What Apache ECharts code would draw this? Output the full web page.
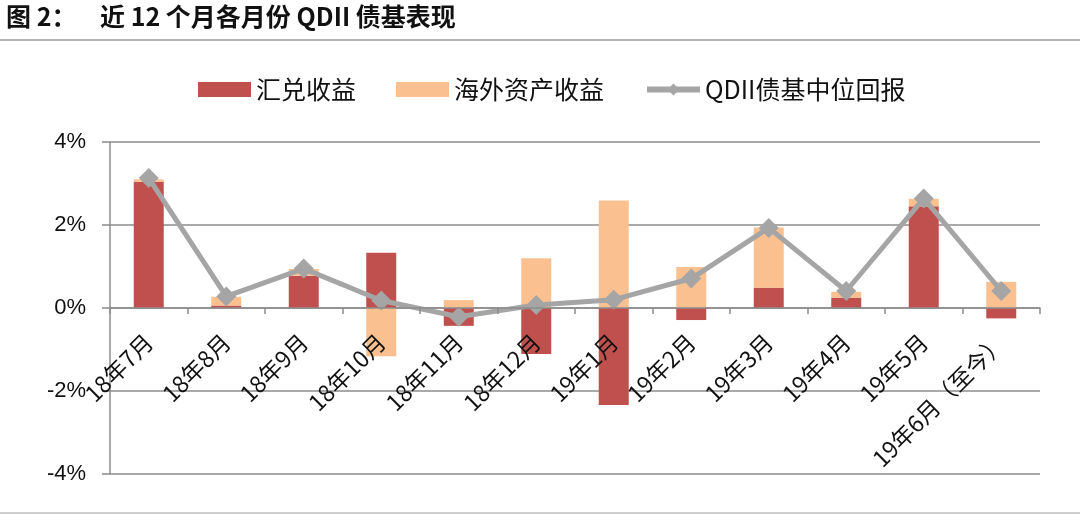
<!DOCTYPE html>
<html>
<head>
<meta charset="utf-8">
<script src="https://cdn.jsdelivr.net/npm/echarts@6/dist/echarts.min.js"></script>
<style>
html,body{margin:0;padding:0;background:#fff;}
#c{width:1080px;height:520px;}
</style>
</head>
<body>
<div id="c"></div>
<script>
const categories = ['18年7月','18年8月','18年9月','18年10月','18年11月','18年12月','19年1月','19年2月','19年3月','19年4月','19年5月','19年6月（至今）'];
const fxReturn = [3.04, 0.06, 0.78, 1.33, -0.43, -1.11, -2.34, -0.29, 0.49, 0.25, 2.45, -0.25];
const overseasReturn = [0.06, 0.21, 0.16, -1.16, 0.19, 1.20, 2.59, 0.99, 1.45, 0.14, 0.18, 0.63];
const qdiiMedian = [3.13, 0.28, 0.95, 0.18, -0.21, 0.07, 0.20, 0.71, 1.93, 0.41, 2.64, 0.41];
const yTicks = [-4, -2, 0, 2, 4];
const titleLabel = '图 2：';
const titleText = '近 12 个月各月份 QDII 债基表现';

const FONT = '"Noto Sans CJK SC", "Noto Sans", sans-serif';
const chart = echarts.init(document.getElementById('c'));
chart.setOption({
  animation: false,
  backgroundColor: '#fff',
  textStyle: { fontFamily: FONT },
  graphic: [
    { type: 'text', left: 6, top: 4, style: { text: titleLabel, font: 'bold 25px ' + FONT, fill: '#111' } },
    { type: 'text', left: 100, top: 4, style: { text: titleText, font: 'bold 25px ' + FONT, fill: '#111' } },
    { type: 'line', shape: { x1: 0, y1: 40, x2: 1080, y2: 40 }, style: { stroke: '#b4b4b4', lineWidth: 2 } },
    { type: 'line', shape: { x1: 0, y1: 513, x2: 1080, y2: 513 }, style: { stroke: '#cfcfcf', lineWidth: 2 } }
  ],
  legend: {
    left: 193, top: 72,
    itemWidth: 53, itemHeight: 15, itemGap: 40,
    textStyle: { fontFamily: FONT, fontSize: 25, color: '#111' },
    data: [
      { name: '汇兑收益', icon: 'rect' },
      { name: '海外资产收益', icon: 'rect' },
      { name: 'QDII债基中位回报', lineStyle: { width: 6 } }
    ]
  },
  grid: { left: 110, right: 40, top: 142, bottom: 46, outerBoundsMode: 'none', containLabel: false },
  xAxis: {
    type: 'category',
    data: categories,
    position: 'bottom',
    offset: -166,
    z: 10,
    axisLine: { onZero: false, lineStyle: { color: '#8c8c8c', width: 1.5 } },
    axisTick: { show: true, length: 6, lineStyle: { color: '#8c8c8c', width: 1.5 } },
    axisLabel: { interval: 0, rotate: 45, margin: 30, fontSize: 23, color: '#111', fontFamily: FONT }
  },
  yAxis: {
    type: 'value',
    min: yTicks[0], max: yTicks[yTicks.length - 1], interval: 2,
    axisLine: { show: true, lineStyle: { color: '#8c8c8c', width: 1.5 } },
    axisTick: { show: true, length: 8, lineStyle: { color: '#8c8c8c', width: 1.5 } },
    splitLine: { show: true, lineStyle: { color: '#8c8c8c', width: 1.5 } },
    axisLabel: { formatter: '{value}%', margin: 24, fontSize: 22, color: '#111', fontFamily: 'Liberation Sans, Arial, sans-serif' }
  },
  series: [
    {
      name: '汇兑收益', type: 'bar', stack: 'total', barWidth: 30,
      itemStyle: { color: '#C0504D' },
      data: fxReturn
    },
    {
      name: '海外资产收益', type: 'bar', stack: 'total', barWidth: 30,
      itemStyle: { color: '#FAC090' },
      data: overseasReturn
    },
    {
      name: 'QDII债基中位回报', type: 'line',
      symbol: 'diamond', symbolSize: 20,
      itemStyle: { color: '#A5A5A5' },
      lineStyle: { color: '#A5A5A5', width: 5 },
      z: 5,
      data: qdiiMedian
    }
  ]
});
</script>
</body>
</html>
